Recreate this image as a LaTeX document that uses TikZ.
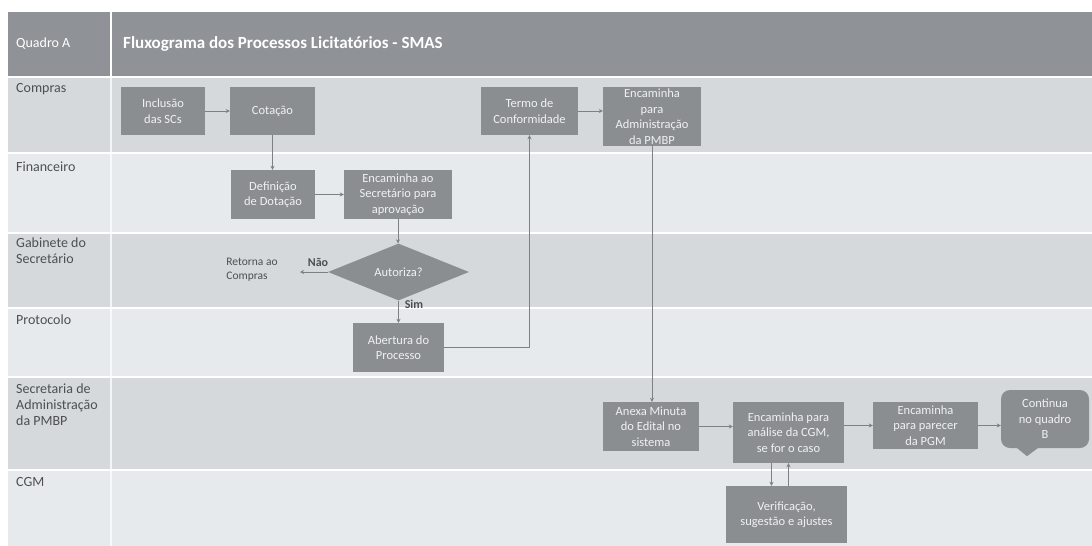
\documentclass[tikz,border=0pt]{standalone}
\usepackage{fontspec}
\setmainfont{Carlito}
\usetikzlibrary{shapes.geometric,arrows.meta,calc}

\definecolor{hdr}{HTML}{8F9397}
\definecolor{laneD}{HTML}{D5D9DC}
\definecolor{laneL}{HTML}{E7EAED}
\definecolor{boxfill}{HTML}{8B8E91}
\definecolor{boxtext}{HTML}{F0F1F2}
\definecolor{lnc}{HTML}{7D8084}
\definecolor{lbltext}{HTML}{4D4F52}

\tikzset{
  stepbox/.style={rectangle, fill=boxfill, text=boxtext, align=center, inner sep=2pt,
    font=\fontsize{12.5}{15.5}\selectfont},
  decision/.style={diamond, fill=boxfill, text=boxtext, inner sep=0pt,
    font=\fontsize{12.5}{15.5}\selectfont},
  lanelbl/.style={anchor=north west, align=left, inner sep=0pt, text=lbltext,
    font=\fontsize{14}{16}\selectfont},
  hdrtxt/.style={anchor=west, inner sep=0pt, text=white},
  arr/.style={draw=lnc, line width=0.9pt, -{Stealth[length=4pt,width=4pt]}},
  edgelbl/.style={inner sep=0pt, text=lbltext, font=\fontsize{12}{14}\selectfont\bfseries},
  notetxt/.style={inner sep=0pt, align=left, text=lbltext, font=\fontsize{11.5}{14}\selectfont},
  sep/.style={draw=white, line width=1.6pt}
}

\begin{document}
\begin{tikzpicture}[x=1pt,y=-1pt]
\useasboundingbox (0,0) rectangle (1092,546);
\fill[white] (0,0) rectangle (1092,546);

% header band
\fill[hdr] (8,12) rectangle (1092,77);

% swimlanes
\fill[laneD] (8,77)  rectangle (1092,153);
\fill[laneL] (8,153) rectangle (1092,233);
\fill[laneD] (8,233) rectangle (1092,308);
\fill[laneL] (8,308) rectangle (1092,377);
\fill[laneD] (8,377) rectangle (1092,470);
\fill[laneL] (8,470) rectangle (1092,546);

% lane separators
\foreach \yy in {77,153,233,308,377,470} \draw[sep] (8,\yy) -- (1092,\yy);
\draw[sep, line width=2.4pt] (111,12) -- (111,77);
\draw[sep, line width=1.4pt, draw opacity=0.75] (111,77) -- (111,546);

% header texts
\node[hdrtxt, font=\fontsize{14}{16}\selectfont] (quadro) at (16,44) {Quadro A};
\node[hdrtxt, font=\fontsize{17}{20}\selectfont\bfseries] (titulo) at (123,44)
  {Fluxograma dos Processos Licitatórios - SMAS};

% lane labels
\node[lanelbl] (lnCompras) at (16,83)  {Compras};
\node[lanelbl] (lnFin)     at (16,162) {Financeiro};
\node[lanelbl] (lnGab)     at (16,238) {Gabinete do\\Secretário};
\node[lanelbl] (lnProt)    at (16,315) {Protocolo};
\node[lanelbl] (lnSec)     at (16,384) {Secretaria de\\Administração\\da PMBP};
\node[lanelbl] (lnCGM)     at (16,477) {CGM};

% process steps
\node[stepbox, minimum width=84pt, minimum height=48pt]  (inc)    at (163,111)   {Inclusão\\das SCs};
\node[stepbox, minimum width=85pt, minimum height=48pt]  (cot)    at (272.5,111) {Cotação};
\node[stepbox, minimum width=97pt, minimum height=48pt]  (termo)  at (529.5,111) {Termo de\\Conformidade};
\node[stepbox, minimum width=98pt, minimum height=59pt, inner sep=0pt] (encadm) at (652,116.5)
  {Encaminha\\para\\Administração\\da PMBP};
\node[stepbox, minimum width=84pt, minimum height=49pt]  (def)    at (273,194.5) {Definição\\de Dotação};
\node[stepbox, minimum width=108pt, minimum height=49pt] (encsec) at (398,194.5) {Encaminha ao\\Secretário para\\aprovação};
\node[decision, minimum width=141pt, minimum height=52pt] (aut)   at (398.5,272) {Autoriza?};
\node[stepbox, minimum width=91pt, minimum height=49pt]  (abert)  at (398.5,347.5) {Abertura do\\Processo};
\node[stepbox, minimum width=96pt, minimum height=49pt]  (anexa)  at (651,426.5) {Anexa Minuta\\do Edital no\\sistema};
\node[stepbox, minimum width=111pt, minimum height=61pt] (enccgm) at (788.5,432.5) {Encaminha para\\análise da CGM,\\se for o caso};
\node[stepbox, minimum width=105pt, minimum height=47pt] (parecer) at (925.5,425.5) {Encaminha\\para parecer\\da PGM};
\node[stepbox, minimum width=121pt, minimum height=57pt] (verif)  at (786.5,514.5) {Verificação,\\sugestão e ajustes};

% continuation callout
\node[stepbox, rounded corners=9pt, minimum width=88pt, minimum height=58pt] (cont) at (1045,419)
  {Continua\\no quadro\\B};
\fill[boxfill] ($(cont.south)+(-29,-1)$) -- ($(cont.south)+(-18,8)$) -- ($(cont.south)+(-6,-1)$) -- cycle;

% rejection note
\node[notetxt] (ret) at (252,270) {Retorna ao\\Compras};
\coordinate (retend) at (300,272);
\node[edgelbl] (nao) at (318,262) {Não};
\node[edgelbl] (sim) at (414,304) {Sim};

% connectors
\draw[arr] (inc.east) -- (cot.west);
\draw[arr] (cot.south) -- (cot.south |- def.north);
\draw[arr] (def.east) -- (encsec.west);
\draw[arr] (encsec.south) -- (encsec.south |- aut.north);
\draw[arr] (aut.west) -- (retend);
\draw[arr] (aut.south) -- (aut.south |- abert.north);
\draw[arr] (abert.east) -| (termo.south);
\draw[arr] (termo.east) -- (termo.east -| encadm.west);
\draw[arr] (encadm.south) -- (encadm.south |- anexa.north);
\draw[arr] (anexa.east) -- (anexa.east -| enccgm.west);
\draw[arr] (enccgm.east |- parecer.west) -- (parecer.west);
\draw[arr] (parecer.east) -- (parecer.east -| cont.west);
\draw[arr] ($(enccgm.south)+(-17,0)$) coordinate (dn) -- (dn |- verif.north);
\draw[arr] (verif.north -| enccgm.south) -- (enccgm.south);
\end{tikzpicture}
\end{document}
